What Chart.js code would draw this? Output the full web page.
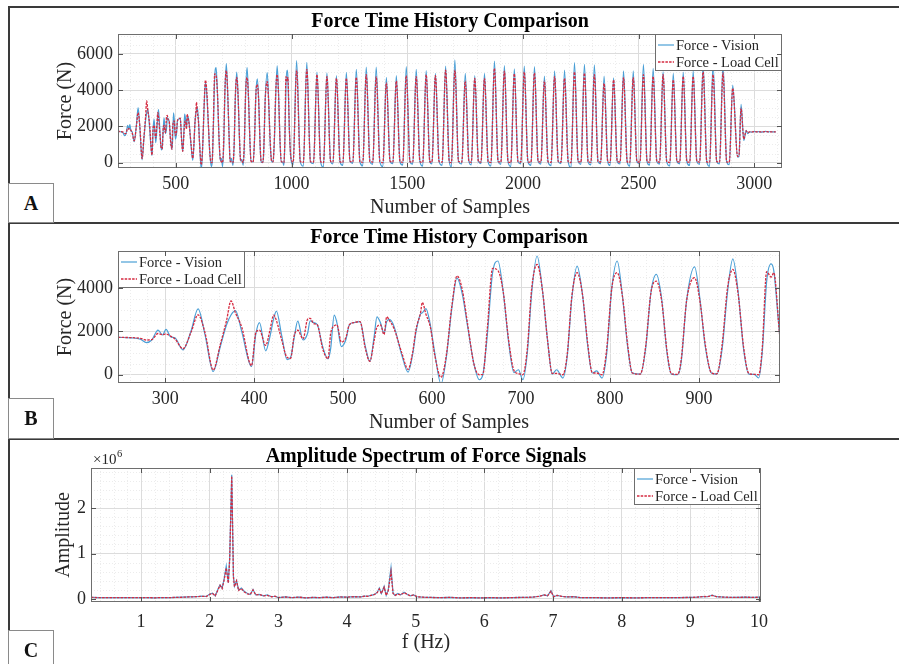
<!DOCTYPE html>
<html>
<head>
<meta charset="utf-8">
<title>Force Time History Comparison</title>
<script src="https://cdn.jsdelivr.net/npm/chart.js@4.4.1/dist/chart.umd.min.js"></script>
<style>
  html, body { margin: 0; padding: 0; background: #fff; }
  body { position: relative; width: 899px; height: 664px; overflow: hidden;
         font-family: "Liberation Serif", "Times New Roman", serif; }
  .rule { position: absolute; background: #3a3a3a; }
  .tag { position: absolute; left: 8px; width: 46px; box-sizing: border-box;
         border: 1px solid #8a8a8a; background: #fff; display: flex;
         align-items: center; justify-content: center;
         font: bold 20px "Liberation Serif", "Times New Roman", serif; color: #111; }
  canvas { position: absolute; left: 10px; }
</style>
</head>
<body>
<div class="rule" style="left:8px; top:6px; width:891px; height:2px"></div>
<div class="rule" style="left:8px; top:6px; width:1.5px; height:658px"></div>
<div class="rule" style="left:8px; top:222px; width:891px; height:2px"></div>
<div class="rule" style="left:8px; top:438px; width:891px; height:2px"></div>

<canvas id="panelA" width="889" height="214" style="top:8px"></canvas>
<canvas id="panelB" width="889" height="213" style="top:225px"></canvas>
<canvas id="panelC" width="889" height="224" style="top:440px"></canvas>

<div class="tag" style="top:183px; height:40px">A</div>
<div class="tag" style="top:398px; height:41px">B</div>
<div class="tag" style="top:630px; height:40px">C</div>

<script>
// ---- force time history: sample number, vision-based force, load-cell force (N) ----
const sampleNo = [
  247, 262, 272, 279, 285, 292, 297, 301, 306, 311,
  320, 329, 337, 345, 354, 362, 369, 374, 379, 386,
  397, 402, 406, 413, 418, 422, 425, 431, 437, 441,
  445, 449, 455, 460, 463, 467, 471, 477, 483, 486,
  490, 493, 498, 503, 507, 512, 519, 525, 530, 535,
  538, 542, 546, 549, 552, 557, 566, 573, 578, 582,
  587, 589, 593, 598, 603, 610, 616, 622, 628, 634,
  640, 647, 653, 657, 662, 668, 674, 680, 686, 692,
  697, 702, 707, 712, 718, 724, 730, 735, 740, 747,
  752, 757, 763, 769, 775, 780, 785, 791, 796, 802,
  808, 814, 820, 825, 834, 840, 846, 852, 858, 864,
  869, 876, 880, 886, 895, 901, 907, 914, 920, 926,
  932, 938, 944, 950, 956, 962, 967, 971, 976, 981,
  984, 991, 998,
  1007, 1022, 1038,  1051, 1066, 1082,  1095, 1110, 1126,  1138, 1153, 1169,
  1179, 1194, 1210,  1222, 1237, 1253,  1265, 1280, 1296,  1308, 1323, 1339,
  1351, 1366, 1382,  1395, 1410, 1426,  1438, 1453, 1469,  1481, 1496, 1512,
  1524, 1539, 1555,  1567, 1582, 1598,  1607, 1622, 1638,  1651, 1666, 1682,
  1691, 1706, 1722,  1736, 1751, 1767,  1777, 1792, 1808,  1819, 1834, 1850,
  1862, 1877, 1893,  1905, 1920, 1936,  1948, 1963, 1979,  1991, 2006, 2022,
  2035, 2050, 2066,  2078, 2093, 2109,  2122, 2137, 2153,  2165, 2180, 2196,
  2208, 2223, 2239,  2251, 2266, 2282,  2294, 2309, 2325,  2336, 2351, 2367,
  2377, 2392, 2408,  2420, 2435, 2451,  2462, 2477, 2493,  2506, 2521, 2537,
  2548, 2563, 2579,  2591, 2606, 2622,  2635, 2650, 2666,  2678, 2693, 2709,
  2721, 2736, 2752,  2764, 2779, 2795,  2807, 2822, 2838,  2850, 2865, 2881,
  2892, 2907, 2928,  2934, 2943, 2955,  2965, 2972, 2980,  2990, 3000, 3010,
  3020, 3030, 3040,  3050, 3060, 3070,  3080, 3093
];

const visionForce = [
  1720, 1700, 1640, 1480, 1600, 2060, 1830, 2090, 1750, 1700,
  1150, 2000, 3030, 1800, 150, 1300, 2300, 2750, 2950, 2000,
  380, 1900, 2400, 1100, 1800, 2600, 2930, 1800, 700, 800,
  1700, 2470, 1600, 1900, 2480, 2400, 2300, 1300, 730, 1200,
  2750, 2400, 1300, 1600, 2300, 2400, 2450, 1300, 610, 1800,
  2670, 2400, 1900, 2450, 2550, 2250, 900, 120, 900, 2000,
  2800, 2850, 3050, 2300, 1000, -420, 800, 3000, 4450, 3700,
  2200, 500, -230, 0, 1800, 4700, 5240, 3800, 1500, 100,
  230, -230, 1000, 3800, 5470, 3900, 1500, 30, 230, -150,
  900, 3500, 5000, 3700, 1300, 80, 180, -150, 900, 4000,
  5240, 3600, 1200, 80, 30, 1200, 3800, 4620, 3500, 1000,
  30, 0, 600, 3400, 4970, 3500, 1300, 80, 30, 1200,
  3800, 5340, 3800, 1200, 30, 20, -150, 1000, 4300, 5110,
  4800, 1700, 150,
  -120, 5630, 40,  -200, 5540, 20,  -60, 5000, 30,  -250, 4950, 50,
  -80, 4800, 20,  -150, 4980, 60,  -40, 5150, 10,  -180, 5270, 40,
  -100, 5270, 30,  -220, 4700, 60,  -60, 4800, 20,  -140, 5300, 30,
  -90, 5150, 50,  -200, 5080, 20,  -70, 4925, 40,  -160, 5330, 30,
  -240, 5670, 50,  -80, 4930, 20,  -130, 4800, 40,  -60, 4930, 30,
  -190, 5610, 50,  -100, 5350, 20,  -220, 5170, 40,  -70, 5330, 30,
  -150, 5300, 50,  -90, 4780, 20,  -170, 5070, 40,  -60, 5110, 30,
  -280, 5520, 50,  -100, 5430, 20,  -130, 5390, 40,  -70, 4770, 30,
  -160, 4680, 50,  -80, 5070, 20,  -200, 5060, 40,  -60, 5420, 30,
  -140, 5200, 50,  -90, 5030, 20,  -190, 4930, 40,  -70, 5000, 30,
  -160, 5070, 50,  -100, 5430, 20,  -210, 5480, 40,  -80, 5430, 30,
  -120, 4280, 300,  330, 3220, 1220,  1780, 1600, 1700,  1680, 1720, 1690,
  1710, 1680, 1700,  1720, 1690, 1710,  1690, 1700
];

const loadCellForce = [
  1720, 1710, 1680, 1600, 1620, 1900, 1850, 1880, 1780, 1650,
  1200, 1950, 2760, 1900, 220, 1400, 2500, 3400, 2850, 2200,
  420, 1950, 2050, 1350, 2100, 2750, 2500, 1600, 800, 760,
  1800, 2050, 1650, 2550, 2600, 2350, 2300, 1200, 740, 1900,
  2250, 2300, 1500, 1700, 2300, 2400, 2450, 1200, 620, 1600,
  2200, 2300, 1850, 2670, 2500, 2150, 1000, 250, 1000, 2100,
  2850, 3330, 2800, 2200, 900, -120, 900, 3100, 4550, 3900,
  2300, 500, 0, 20, 2100, 4900, 4800, 3800, 1600, 200,
  50, 0, 1200, 4000, 5080, 3900, 1500, 60, 60, 0,
  1000, 3600, 4700, 3700, 1400, 100, 80, 0, 1100, 4000,
  4700, 3600, 1300, 80, 30, 1300, 3800, 4310, 3400, 1100,
  40, 20, 700, 3400, 4470, 3400, 1400, 80, 40, 1400,
  4000, 4850, 3700, 1300, 60, 20, 0, 1200, 4750, 4500,
  4700, 1700, 200,
  20, 5100, 60,  10, 5150, 50,  30, 4850, 40,  0, 4750, 60,
  30, 4650, 40,  10, 4650, 70,  40, 4700, 30,  20, 4850, 50,
  30, 4750, 40,  0, 4400, 70,  30, 4500, 40,  20, 4800, 50,
  30, 4750, 60,  10, 4850, 40,  30, 4800, 50,  20, 5100, 40,
  0, 5100, 60,  30, 4500, 40,  20, 4650, 50,  30, 4650, 40,
  10, 5200, 60,  30, 5050, 40,  0, 4900, 50,  30, 5000, 40,
  20, 4950, 60,  30, 4500, 40,  10, 4750, 50,  30, 4650, 40,
  0, 5000, 60,  30, 4930, 40,  20, 4850, 50,  30, 4370, 40,
  10, 4560, 60,  30, 4700, 40,  10, 4700, 50,  30, 4850, 40,
  20, 4750, 60,  30, 4850, 40,  10, 4560, 50,  30, 4750, 40,
  20, 4750, 60,  30, 5000, 40,  10, 4850, 50,  30, 4950, 40,
  20, 4100, 350,  380, 3000, 1300,  1750, 1650, 1700,  1690, 1710, 1700,
  1700, 1690, 1700,  1710, 1700, 1700,  1700, 1700
];

// ---- amplitude spectrum: frequency (Hz) and amplitude in units of 10^6 ----
const freqHz = [
  0.27, 0.40, 0.55, 0.70, 0.85, 1.00, 1.10, 1.20, 1.30, 1.40,
  1.50, 1.60, 1.70, 1.80, 1.88, 1.95, 2.00, 2.04, 2.08, 2.12,
  2.15, 2.18, 2.21, 2.24, 2.27, 2.29, 2.32, 2.345, 2.36, 2.39,
  2.42, 2.46, 2.50, 2.55, 2.59, 2.63, 2.67, 2.72, 2.78, 2.84,
  2.90, 2.95, 3.00, 3.10, 3.20, 3.30, 3.40, 3.50, 3.60, 3.70,
  3.80, 3.90, 4.00, 4.10, 4.20, 4.25, 4.30, 4.35, 4.40, 4.44,
  4.47, 4.50, 4.54, 4.57, 4.60, 4.64, 4.67, 4.70, 4.74, 4.78,
  4.83, 4.88, 4.92, 4.97, 5.02, 5.10, 5.20, 5.35, 5.50, 5.65,
  5.80, 5.95, 6.10, 6.25, 6.40, 6.55, 6.70, 6.80, 6.87, 6.92,
  6.97, 7.01, 7.06, 7.12, 7.20, 7.30, 7.40, 7.60, 7.80, 8.00,
  8.20, 8.40, 8.60, 8.80, 9.00, 9.10, 9.20, 9.25, 9.32, 9.38,
  9.50, 9.65, 9.80, 9.90, 10.03
];

const visionAmp = [
  0.035, 0.030, 0.033, 0.028, 0.031, 0.027, 0.031, 0.025, 0.033, 0.028,
  0.036, 0.040, 0.045, 0.050, 0.065, 0.055, 0.110, 0.130, 0.070, 0.220,
  0.310, 0.240, 0.450, 0.720, 0.360, 0.900, 2.730, 0.500, 0.280, 0.400,
  0.200, 0.240, 0.170, 0.120, 0.100, 0.210, 0.090, 0.100, 0.070, 0.090,
  0.050, 0.060, 0.030, 0.045, 0.030, 0.040, 0.025, 0.035, 0.030, 0.040,
  0.030, 0.045, 0.040, 0.050, 0.045, 0.065, 0.060, 0.080, 0.100, 0.150,
  0.240, 0.120, 0.280, 0.080, 0.200, 0.690, 0.130, 0.080, 0.120, 0.090,
  0.150, 0.100, 0.070, 0.090, 0.050, 0.040, 0.035, 0.030, 0.035, 0.025,
  0.030, 0.025, 0.030, 0.025, 0.030, 0.035, 0.040, 0.060, 0.090, 0.070,
  0.180, 0.050, 0.080, 0.060, 0.045, 0.050, 0.030, 0.030, 0.025, 0.030,
  0.025, 0.030, 0.028, 0.030, 0.035, 0.040, 0.055, 0.050, 0.085, 0.050,
  0.040, 0.035, 0.040, 0.035, 0.040
];

const loadCellAmp = [
  0.035, 0.031, 0.032, 0.029, 0.030, 0.028, 0.030, 0.026, 0.032, 0.030,
  0.035, 0.038, 0.046, 0.050, 0.060, 0.055, 0.100, 0.120, 0.070, 0.200,
  0.300, 0.230, 0.420, 0.680, 0.350, 0.850, 2.700, 0.480, 0.270, 0.400,
  0.190, 0.230, 0.160, 0.110, 0.100, 0.200, 0.090, 0.100, 0.070, 0.080,
  0.050, 0.060, 0.030, 0.045, 0.030, 0.040, 0.025, 0.035, 0.030, 0.040,
  0.030, 0.045, 0.040, 0.050, 0.045, 0.060, 0.060, 0.080, 0.100, 0.140,
  0.220, 0.120, 0.260, 0.080, 0.180, 0.600, 0.120, 0.080, 0.110, 0.090,
  0.140, 0.100, 0.070, 0.090, 0.050, 0.040, 0.035, 0.030, 0.035, 0.025,
  0.030, 0.025, 0.030, 0.025, 0.030, 0.035, 0.040, 0.060, 0.090, 0.070,
  0.170, 0.050, 0.080, 0.060, 0.045, 0.050, 0.030, 0.030, 0.025, 0.030,
  0.025, 0.030, 0.028, 0.030, 0.035, 0.040, 0.055, 0.050, 0.080, 0.050,
  0.040, 0.035, 0.040, 0.035, 0.040
];

// ---- tick values for each axis ----
const sampleTicksA = [500, 1000, 1500, 2000, 2500, 3000];
const forceTicksA = [0, 2000, 4000, 6000];
const sampleTicksB = [300, 400, 500, 600, 700, 800, 900];
const forceTicksB = [0, 2000, 4000];
const freqTicks = [1, 2, 3, 4, 5, 6, 7, 8, 9, 10];
const ampTicks = [0, 1, 2];

// ---- styling ----
const SERIF = '"Liberation Serif", "Times New Roman", serif';
const INK = '#262626';
const BLUE = '#4a9fd6';
const RED = '#d52a40';
const GRID = '#dcdcdc';
const MINOR = '#ececec';
const BOX = '#6e6e6e';

const toPoints = (xs, ys) => xs.map((v, i) => ({ x: v, y: ys[i] }));

function drawLegend(chart, side) {
  const { ctx, chartArea: a } = chart;
  const sets = chart.data.datasets;
  ctx.save();
  ctx.font = `14.5px ${SERIF}`;
  const textW = Math.max(...sets.map(d => ctx.measureText(d.label).width));
  const w = Math.round(textW + 24);
  const h = 37;
  const left = side === 'left' ? a.left : a.right - w;
  const top = a.top;
  ctx.fillStyle = '#fff';
  ctx.fillRect(left, top, w, h);
  ctx.strokeStyle = BOX;
  ctx.lineWidth = 1;
  ctx.strokeRect(left + 0.5, top + 0.5, w - 1, h - 1);
  sets.forEach((d, i) => {
    const yy = top + 11 + i * 17;
    ctx.strokeStyle = d.borderColor;
    ctx.lineWidth = d.borderWidth;
    ctx.setLineDash(d.borderDash || []);
    ctx.beginPath();
    ctx.moveTo(left + 3, yy);
    ctx.lineTo(left + 19, yy);
    ctx.stroke();
    ctx.setLineDash([]);
    ctx.fillStyle = INK;
    ctx.textAlign = 'left';
    ctx.textBaseline = 'middle';
    ctx.fillText(d.label, left + 21, yy + 1);
  });
  ctx.restore();
}

// MATLAB-style axes: minor grid, framed box, inward ticks, title, legend
const matlabAxes = {
  id: 'matlabAxes',
  beforeDatasetsDraw(chart, _args, o) {
    const { ctx, chartArea: a, scales: { x, y } } = chart;
    ctx.save();
    ctx.beginPath();
    ctx.rect(a.left, a.top, a.width, a.height);
    ctx.clip();
    ctx.strokeStyle = MINOR;
    ctx.lineWidth = 1;
    ctx.setLineDash([1, 2]);
    ctx.beginPath();
    const rx = Math.round(o.xMajor / o.xMinor);
    for (let k = Math.ceil(x.min / o.xMinor - 1e-9); k * o.xMinor <= x.max + 1e-9; k++) {
      if (k % rx === 0) continue;
      const px = Math.round(x.getPixelForValue(k * o.xMinor)) + 0.5;
      ctx.moveTo(px, a.top);
      ctx.lineTo(px, a.bottom);
    }
    const ry = Math.round(o.yMajor / o.yMinor);
    for (let k = Math.ceil(y.min / o.yMinor - 1e-9); k * o.yMinor <= y.max + 1e-9; k++) {
      if (k % ry === 0) continue;
      const py = Math.round(y.getPixelForValue(k * o.yMinor)) + 0.5;
      ctx.moveTo(a.left, py);
      ctx.lineTo(a.right, py);
    }
    ctx.stroke();
    ctx.restore();
  },
  afterDatasetsDraw(chart, _args, o) {
    const { ctx, chartArea: a, scales: { x, y } } = chart;
    drawLegend(chart, o.legendSide);
    ctx.save();
    ctx.strokeStyle = BOX;
    ctx.lineWidth = 1;
    ctx.strokeRect(a.left + 0.5, a.top + 0.5, a.width - 1, a.height - 1);
    ctx.strokeStyle = '#555';
    ctx.beginPath();
    x.ticks.forEach(t => {
      const px = Math.round(x.getPixelForValue(t.value)) + 0.5;
      ctx.moveTo(px, a.bottom); ctx.lineTo(px, a.bottom - 5);
      ctx.moveTo(px, a.top); ctx.lineTo(px, a.top + 5);
    });
    y.ticks.forEach(t => {
      const py = Math.round(y.getPixelForValue(t.value)) + 0.5;
      ctx.moveTo(a.left, py); ctx.lineTo(a.left + 5, py);
      ctx.moveTo(a.right, py); ctx.lineTo(a.right - 5, py);
    });
    ctx.stroke();

    ctx.fillStyle = '#000';
    ctx.font = `bold 20px ${SERIF}`;
    ctx.textAlign = 'center';
    ctx.textBaseline = 'middle';
    ctx.fillText(o.title, (a.left + a.right) / 2, a.top - o.titleGap);

    if (o.exponent) {
      ctx.fillStyle = INK;
      ctx.textAlign = 'left';
      ctx.textBaseline = 'alphabetic';
      ctx.font = `15px ${SERIF}`;
      const base = '\u00d710';
      ctx.fillText(base, a.left + 2, a.top - 4);
      const bw = ctx.measureText(base).width;
      ctx.font = `10.5px ${SERIF}`;
      ctx.fillText(o.exponent, a.left + 2 + bw + 0.5, a.top - 11);
    }
    ctx.restore();
  }
};

function buildPanel(id, p) {
  const canvas = document.getElementById(id);
  const tickFont = { family: SERIF, size: 18, lineHeight: 1.2 };
  const axisFont = { family: SERIF, size: 20, lineHeight: 1.2 };
  return new Chart(canvas, {
    type: 'line',
    data: {
      datasets: [
        { label: 'Force - Vision', data: toPoints(p.xs, p.vision), borderColor: BLUE,
          borderWidth: 1.2, order: 1 },
        { label: 'Force - Load Cell', data: toPoints(p.xs, p.loadCell), borderColor: RED,
          borderWidth: 1.3, borderDash: [2.5, 1.2], order: 0 }
      ]
    },
    options: {
      responsive: false,
      animation: false,
      devicePixelRatio: 1,
      events: [],
      elements: {
        point: { radius: 0 },
        line: { fill: false, tension: 0, cubicInterpolationMode: p.smooth ? 'monotone' : 'default' }
      },
      layout: { padding: { left: 0, top: p.area.top, right: canvas.width - p.area.right, bottom: 0 } },
      scales: {
        x: {
          type: 'linear', min: p.x.min, max: p.x.max,
          afterFit: s => { s.height = canvas.height - p.area.bottom; },
          afterBuildTicks: s => { s.ticks = p.x.ticks.map(v => ({ value: v })); },
          ticks: { autoSkip: false, maxRotation: 0, padding: p.x.tickPad, color: INK,
                   font: tickFont, callback: v => String(v) },
          grid: { color: GRID, lineWidth: 1, drawTicks: false },
          border: { display: false },
          title: { display: true, text: p.x.title, color: INK, font: axisFont,
                   padding: { top: 0, bottom: p.x.titlePad } }
        },
        y: {
          type: 'linear', min: p.y.min, max: p.y.max,
          afterFit: s => { s.width = p.area.left; },
          afterBuildTicks: s => { s.ticks = p.y.ticks.map(v => ({ value: v })); },
          ticks: { autoSkip: false, padding: 5, color: INK, font: tickFont,
                   callback: v => String(v) },
          grid: { color: GRID, lineWidth: 1, drawTicks: false },
          border: { display: false },
          title: { display: true, text: p.y.title, color: INK, font: axisFont,
                   padding: { top: p.y.titlePad, bottom: 0 } }
        }
      },
      plugins: {
        legend: { display: false },
        tooltip: { enabled: false },
        title: { display: false },
        matlabAxes: {
          title: p.title, titleGap: p.titleGap, legendSide: p.legendSide,
          xMajor: p.x.step, xMinor: p.x.minor, yMajor: p.y.step, yMinor: p.y.minor,
          exponent: p.exponent || ''
        }
      }
    },
    plugins: [matlabAxes]
  });
}

// A: full record
buildPanel('panelA', {
  xs: sampleNo, vision: visionForce, loadCell: loadCellForce, smooth: true,
  area: { left: 108, right: 772, top: 26, bottom: 160 },
  title: 'Force Time History Comparison', titleGap: 12, legendSide: 'right',
  x: { min: 250, max: 3120, ticks: sampleTicksA, step: 500, minor: 100, tickPad: 5,
       title: 'Number of Samples', titlePad: 2 },
  y: { min: -300, max: 7100, ticks: forceTicksA, step: 2000, minor: 500,
       title: 'Force (N)', titlePad: 44 }
});

// B: close-up of the first part of the record
buildPanel('panelB', {
  xs: sampleNo, vision: visionForce, loadCell: loadCellForce, smooth: true,
  area: { left: 108, right: 770, top: 26, bottom: 158 },
  title: 'Force Time History Comparison', titleGap: 13, legendSide: 'left',
  x: { min: 247, max: 991, ticks: sampleTicksB, step: 100, minor: 20, tickPad: 5,
       title: 'Number of Samples', titlePad: 3 },
  y: { min: -380, max: 5700, ticks: forceTicksB, step: 2000, minor: 500,
       title: 'Force (N)', titlePad: 44 }
});

// C: amplitude spectrum
buildPanel('panelC', {
  xs: freqHz, vision: visionAmp, loadCell: loadCellAmp, smooth: false,
  area: { left: 81, right: 751, top: 28, bottom: 162 },
  title: 'Amplitude Spectrum of Force Signals', titleGap: 11, legendSide: 'right',
  exponent: '6',
  x: { min: 0.27, max: 10.03, ticks: freqTicks, step: 1, minor: 0.2, tickPad: 9,
       title: 'f (Hz)', titlePad: 9 },
  y: { min: -0.066, max: 2.88, ticks: ampTicks, step: 1, minor: 0.2,
       title: 'Amplitude', titlePad: 42 }
});
</script>
</body>
</html>
